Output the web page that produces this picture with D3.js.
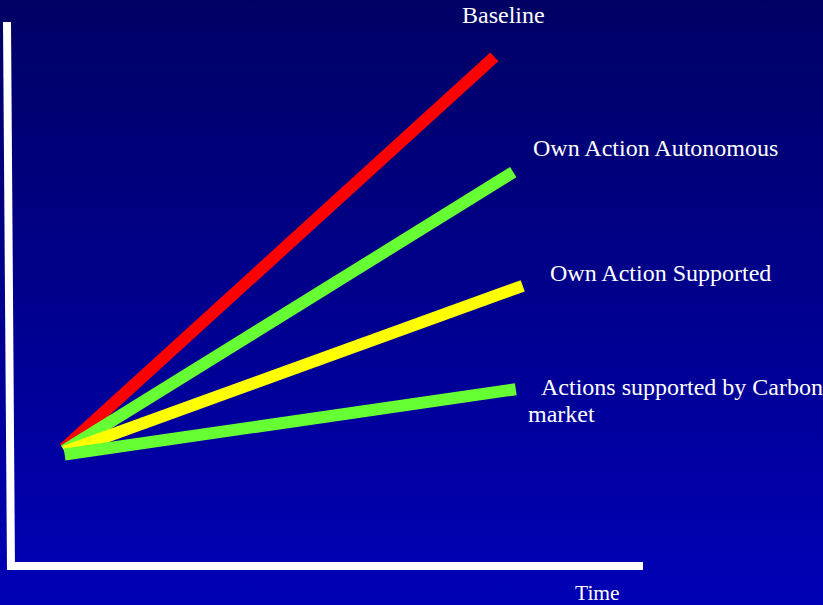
<!DOCTYPE html>
<html>
<head>
<meta charset="utf-8">
<script src="https://cdn.jsdelivr.net/npm/d3@7"></script>
<style>
  html, body { margin: 0; padding: 0; background: #00007a; }
  svg { display: block; }
  text { font-family: "Liberation Serif", "Times New Roman", serif; fill: #ffffff; }
</style>
</head>
<body>
<svg id="chart" width="823" height="605"></svg>
<script>
// Scenario pathways: each line runs from a common start to its own end value
const scenarios = ["Baseline", "Own Action Autonomous", "Own Action Supported", "Actions supported by Carbon market"];
const startTime = [8.4, 8.4, 8.5, 8.5];
const startValue = [21.6, 21.2, 21.0, 20.5];
const endTime = [76.6, 79.6, 81.1, 80.0];
const endValue = [93.6, 72.4, 51.5, 32.5];
const lineColors = ["#ff0000", "#66ff33", "#ffff00", "#66ff33"];
const labelLines = [["Baseline"], ["Own Action Autonomous"], ["Own Action Supported"], ["Actions supported by Carbon", "market"]];
const xAxisTitle = "Time";

const W = 823, H = 605;
const svg = d3.select("#chart");

// Background gradient, dark navy at top to brighter blue at bottom
const defs = svg.append("defs");
const grad = defs.append("linearGradient").attr("id", "bg")
  .attr("x1", 0).attr("y1", 0).attr("x2", 0).attr("y2", 1);
grad.append("stop").attr("offset", "0%").attr("stop-color", "#000064");
grad.append("stop").attr("offset", "100%").attr("stop-color", "#0000b6");
svg.append("rect").attr("width", W).attr("height", H).attr("fill", "url(#bg)");

const x = d3.scaleLinear().domain([0, 100]).range([11, 642]);
const y = d3.scaleLinear().domain([0, 100]).range([566, 22]);

// Axes: heavy white strokes, no ticks
svg.append("line")
  .attr("x1", x(0) - 4).attr("y1", y(100))
  .attr("x2", x(0)).attr("y2", y(0) + 4)
  .attr("stroke", "#ffffff").attr("stroke-width", 8);
svg.append("line")
  .attr("x1", x(0) - 4).attr("y1", y(0))
  .attr("x2", x(100) + 1).attr("y2", y(0))
  .attr("stroke", "#ffffff").attr("stroke-width", 8);

// Scenario lines
const data = scenarios.map((s, i) => ({
  name: s,
  pts: [[startTime[i], startValue[i]], [endTime[i], endValue[i]]],
  color: lineColors[i]
}));
const line = d3.line().x(d => x(d[0])).y(d => y(d[1]));
svg.append("g").selectAll("path").data(data).join("path")
  .attr("d", d => line(d.pts))
  .attr("fill", "none")
  .attr("stroke", d => d.color)
  .attr("stroke-width", 12)
  .attr("stroke-linecap", "butt");

// Scenario labels
const labelPos = [
  { x: 462, y: 23 },
  { x: 533, y: 156 },
  { x: 550, y: 281 },
  { x: 541, y: 395, x2: 528 }
];
labelLines.forEach((lines, i) => {
  const t = svg.append("text").attr("font-size", 24);
  lines.forEach((ln, j) => {
    t.append("tspan")
      .attr("x", j === 0 ? labelPos[i].x : labelPos[i].x2)
      .attr("y", labelPos[i].y + j * 27)
      .text(ln);
  });
});

svg.append("text").attr("x", 575).attr("y", 600).attr("font-size", 21.5).text(xAxisTitle);
</script>
</body>
</html>
